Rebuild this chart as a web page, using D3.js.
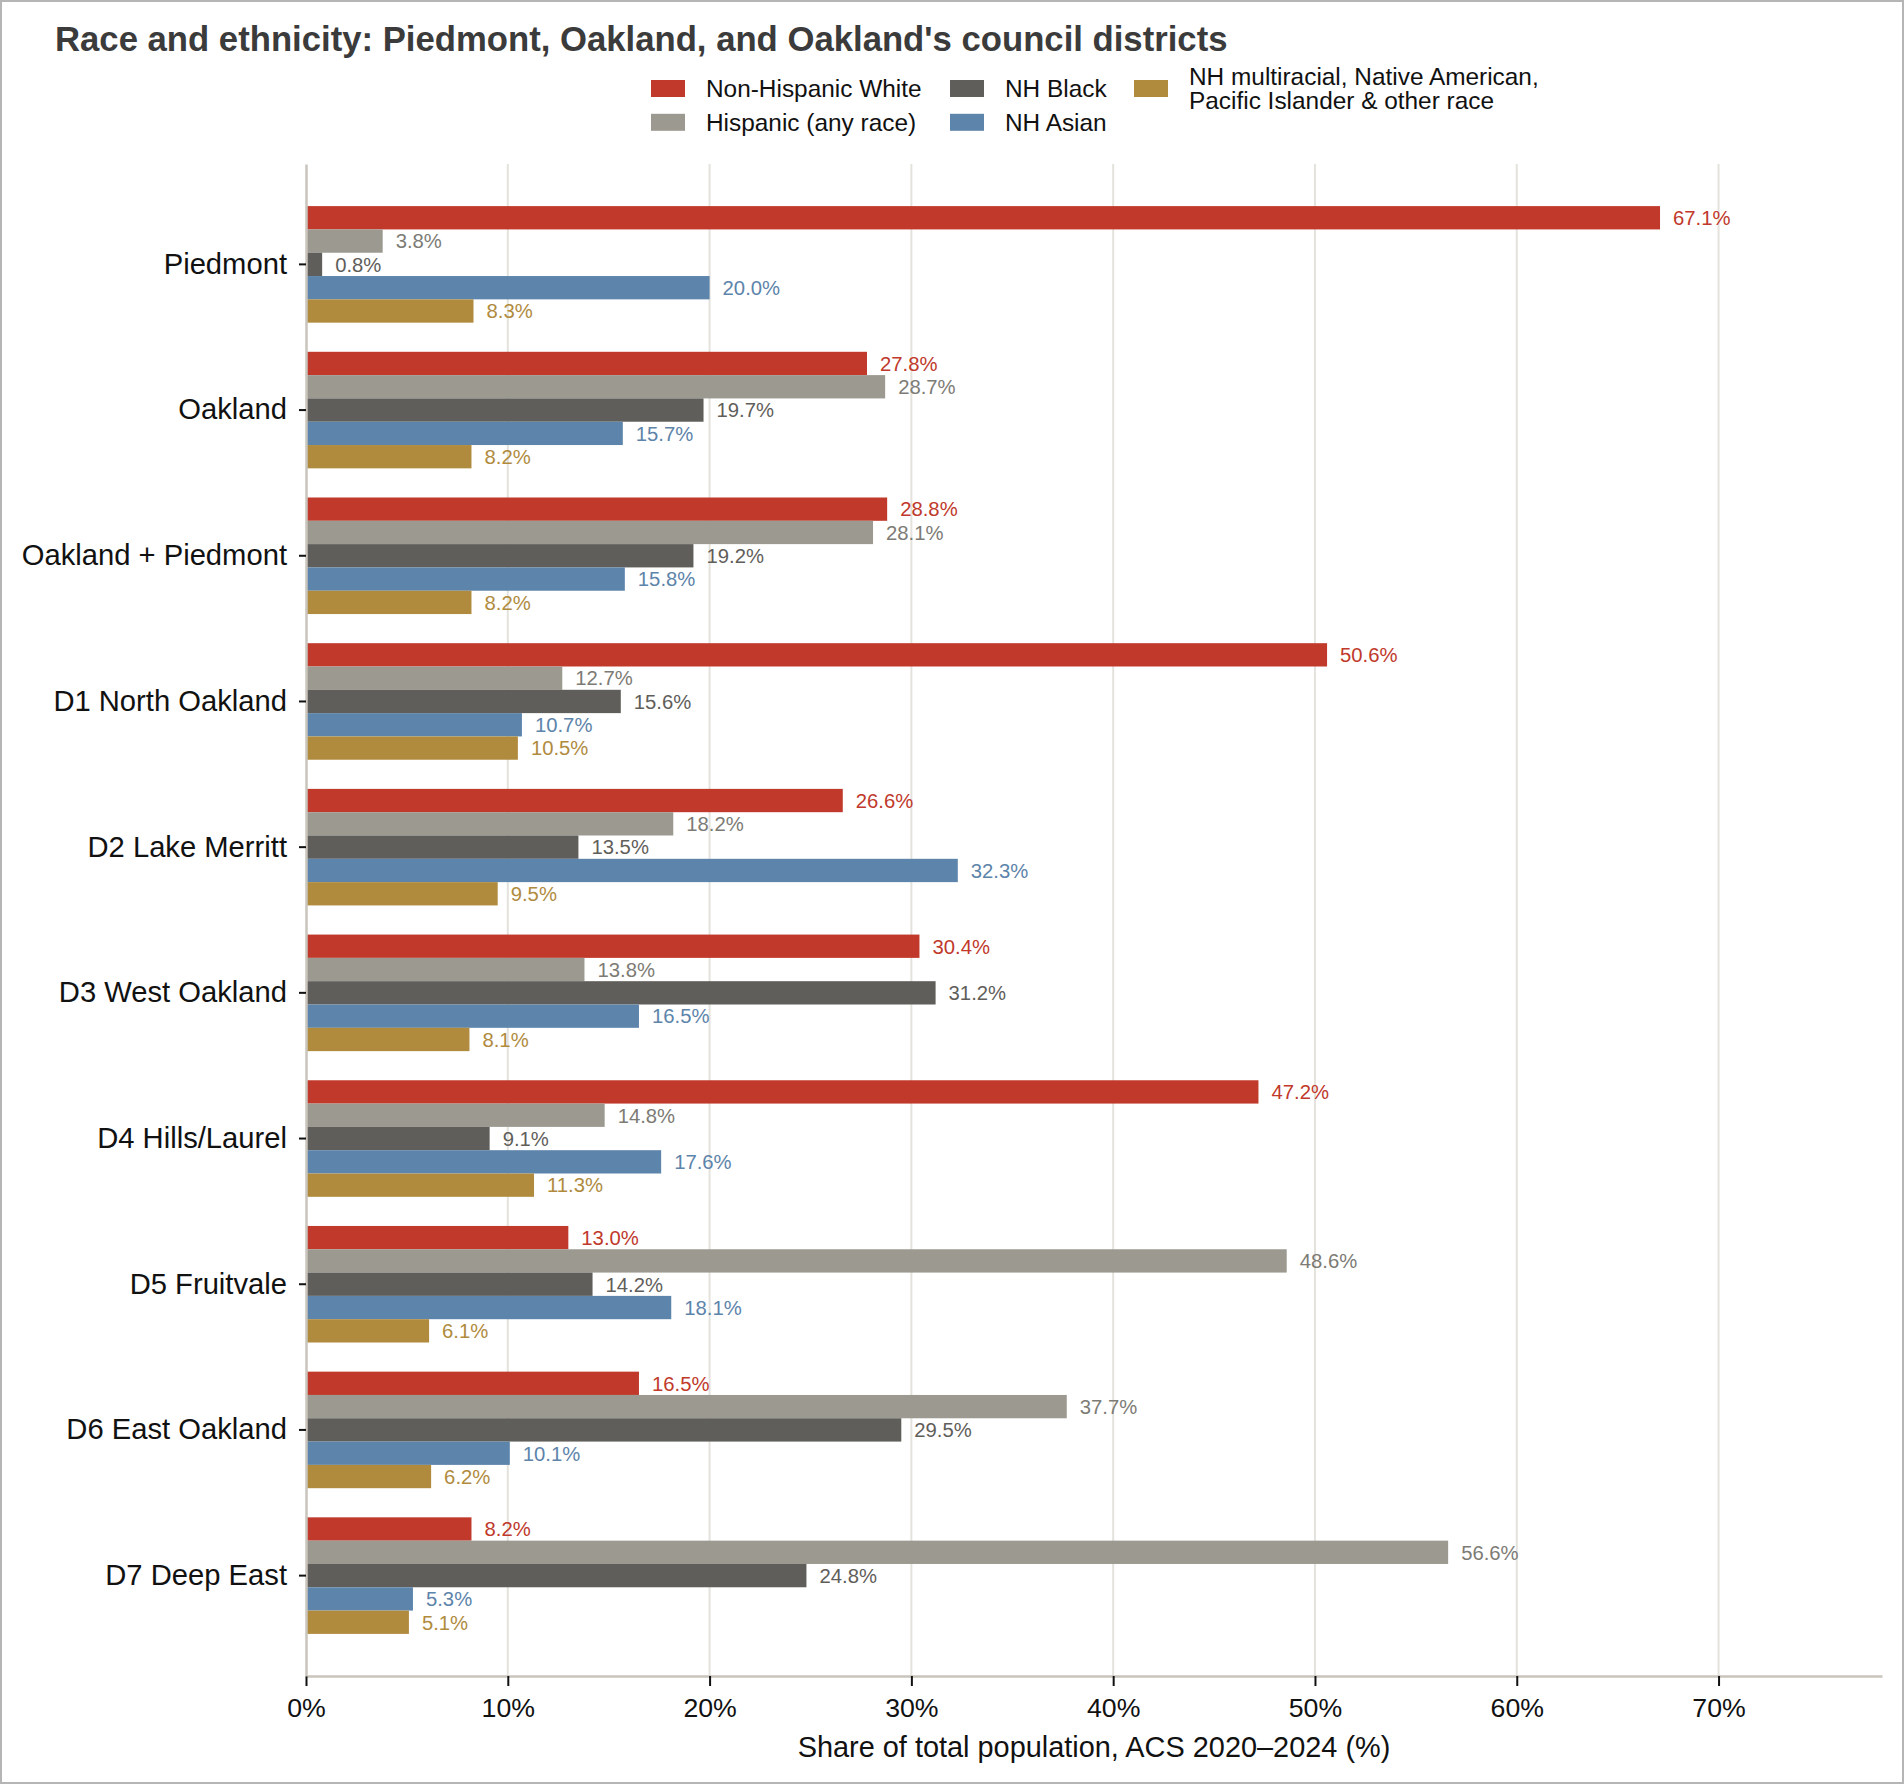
<!DOCTYPE html>
<html>
<head>
<meta charset="utf-8">
<script src="https://cdn.jsdelivr.net/npm/d3@7"></script>
<style>
  body { margin: 0; background: #fff; }
  text { font-family: "Liberation Sans", Arial, sans-serif; }
</style>
</head>
<body>
<div id="chart"></div>
<script>
// Data
const categories = ['Piedmont', 'Oakland', 'Oakland + Piedmont', 'D1 North Oakland', 'D2 Lake Merritt',
    'D3 West Oakland', 'D4 Hills/Laurel', 'D5 Fruitvale', 'D6 East Oakland', 'D7 Deep East'];
const seriesNames = ['Non-Hispanic White', 'Hispanic (any race)', 'NH Black', 'NH Asian',
    'NH multiracial, Native American,\nPacific Islander & other race'];
const whiteValues    = [67.1, 27.8, 28.8, 50.6, 26.6, 30.4, 47.2, 13.0, 16.5, 8.2];
const hispanicValues = [3.8, 28.7, 28.1, 12.7, 18.2, 13.8, 14.8, 48.6, 37.7, 56.6];
const blackValues    = [0.8, 19.7, 19.2, 15.6, 13.5, 31.2, 9.1, 14.2, 29.5, 24.8];
const asianValues    = [20.0, 15.7, 15.8, 10.7, 32.3, 16.5, 17.6, 18.1, 10.1, 5.3];
const otherValues    = [8.3, 8.2, 8.2, 10.5, 9.5, 8.1, 11.3, 6.1, 6.2, 5.1];
const xTicks = [0, 10, 20, 30, 40, 50, 60, 70];

const barColors   = ['#c0392b', '#9c9990', '#5f5e5a', '#5d84aa', '#b08b3e'];
const labelColors = ['#c0392b', '#7d7b75', '#5f5e5a', '#5d84aa', '#b08b3e'];

const seriesValues = [whiteValues, hispanicValues, blackValues, asianValues, otherValues];

const width = 1904;
const height = 1784;
const margin = { top: 164, right: 22, bottom: 108, left: 306 };

const svg = d3.select('#chart')
    .append('svg')
    .attr('width', width)
    .attr('height', height)
    .attr('viewBox', `0 0 ${width} ${height}`);

// Figure frame
svg.append('rect')
    .attr('x', 1).attr('y', 1)
    .attr('width', width - 2).attr('height', height - 2)
    .attr('fill', '#fff')
    .attr('stroke', '#b5b5b5')
    .attr('stroke-width', 2);

// Scales
const x = d3.scaleLinear()
    .domain([0, 78.1])
    .range([margin.left, width - margin.right]);

const y = d3.scaleBand()
    .domain(categories)
    .range([margin.top, height - margin.bottom])
    .paddingInner(0.2)
    .paddingOuter(0.289);

const ySub = d3.scaleBand()
    .domain(d3.range(seriesNames.length))
    .range([0, y.bandwidth()]);

// Vertical grid lines
svg.append('g')
    .selectAll('line')
    .data(xTicks.filter(t => t > 0))
    .enter().append('line')
    .attr('x1', d => x(d)).attr('x2', d => x(d))
    .attr('y1', margin.top).attr('y2', height - margin.bottom)
    .attr('stroke', '#e4e2dc')
    .attr('stroke-width', 2);

// Bars
const groups = svg.append('g')
    .selectAll('g')
    .data(categories)
    .enter().append('g')
    .attr('transform', d => `translate(0,${y(d)})`);

groups.selectAll('rect')
    .data((d, i) => seriesValues.map((vals, j) => ({ j, v: vals[i] })))
    .enter().append('rect')
    .attr('x', x(0))
    .attr('y', d => ySub(d.j))
    .attr('width', d => x(d.v) - x(0))
    .attr('height', ySub.bandwidth())
    .attr('fill', d => barColors[d.j]);

// Value labels
groups.selectAll('text')
    .data((d, i) => seriesValues.map((vals, j) => ({ j, v: vals[i] })))
    .enter().append('text')
    .attr('x', d => x(d.v) + 13)
    .attr('y', d => ySub(d.j) + ySub.bandwidth() / 2)
    .attr('dy', '0.36em')
    .attr('font-size', '20.3px')
    .attr('fill', d => labelColors[d.j])
    .text(d => d.v.toFixed(1) + '%');

// X axis
const xAxis = svg.append('g')
    .attr('transform', `translate(0,${height - margin.bottom})`)
    .call(d3.axisBottom(x)
        .tickValues(xTicks)
        .tickFormat(d => d + '%')
        .tickSize(10)
        .tickSizeOuter(0)
        .tickPadding(12));

xAxis.select('.domain')
    .attr('stroke', '#c9c5bd')
    .attr('stroke-width', 2.5);
xAxis.selectAll('.tick line')
    .attr('stroke', '#111')
    .attr('stroke-width', 2);
xAxis.selectAll('.tick text')
    .attr('font-size', '26.7px')
    .attr('font-family', '"Liberation Sans", Arial, sans-serif')
    .attr('fill', '#111');

// Y axis
const yAxis = svg.append('g')
    .attr('transform', `translate(${margin.left},0)`)
    .call(d3.axisLeft(y)
        .tickSize(7)
        .tickSizeOuter(0)
        .tickPadding(12));

yAxis.select('.domain')
    .attr('stroke', '#c9c5bd')
    .attr('stroke-width', 2.5);
yAxis.selectAll('.tick line')
    .attr('stroke', '#111')
    .attr('stroke-width', 2);
yAxis.selectAll('.tick text')
    .attr('font-size', '29.2px')
    .attr('font-family', '"Liberation Sans", Arial, sans-serif')
    .attr('fill', '#111');

// Axis label
svg.append('text')
    .attr('x', (margin.left + width - margin.right) / 2)
    .attr('y', 1757)
    .attr('text-anchor', 'middle')
    .attr('font-size', '28.9px')
    .attr('fill', '#111')
    .text('Share of total population, ACS 2020\u20132024 (%)');

// Title
svg.append('text')
    .attr('x', 55)
    .attr('y', 50.5)
    .attr('font-size', '34.7px')
    .attr('font-weight', 'bold')
    .attr('fill', '#3b3b3b')
    .text("Race and ethnicity: Piedmont, Oakland, and Oakland's council districts");

// Legend (3 columns, filled column by column)
const legendCols = [651, 950, 1134];
const legendRows = [88.5, 122.3];
const legend = svg.append('g');

seriesNames.forEach((name, i) => {
    const cx = legendCols[Math.floor(i / 2)];
    const cy = legendRows[i % 2];
    legend.append('rect')
        .attr('x', cx)
        .attr('y', cy - 8.5)
        .attr('width', 34)
        .attr('height', 17)
        .attr('fill', barColors[i]);

    const lines = name.split('\n');
    const t = legend.append('text')
        .attr('x', cx + 55)
        .attr('y', cy)
        .attr('font-size', '24.4px')
        .attr('fill', '#111');
    lines.forEach((line, k) => {
        t.append('tspan')
            .attr('x', cx + 55)
            .attr('y', cy + (k - (lines.length - 1) / 2) * 24.4)
            .attr('dy', '0.36em')
            .text(line);
    });
});
</script>
</body>
</html>
